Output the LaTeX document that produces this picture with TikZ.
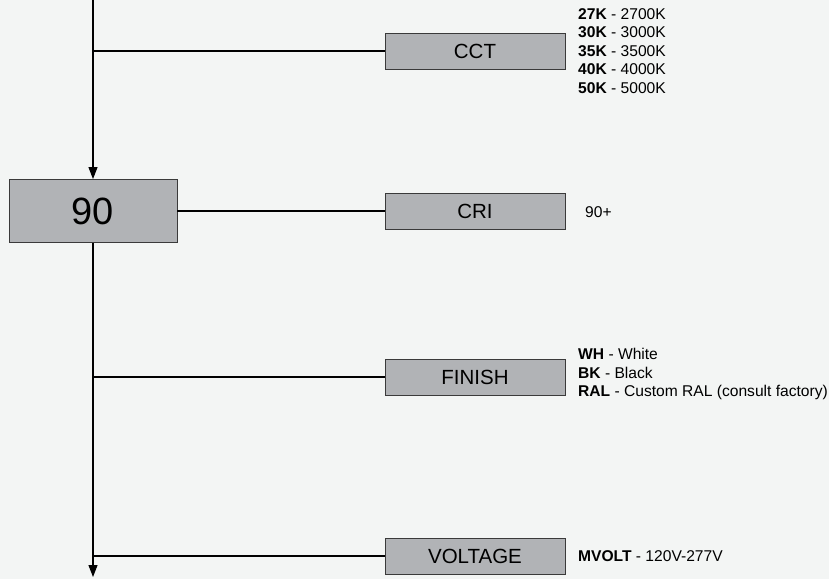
\documentclass[tikz,border=0pt]{standalone}
\usepackage{fontspec}
\setmainfont{Liberation Sans}
\usetikzlibrary{arrows.meta}
\definecolor{bgcol}{HTML}{F3F5F4}
\definecolor{boxcol}{HTML}{B1B3B6}
\definecolor{edgecol}{HTML}{3A3A3A}
\begin{document}
\begin{tikzpicture}[x=1pt,y=-1pt,
    optbox/.style={draw=edgecol, fill=boxcol, line width=0.9pt, minimum width=180pt, minimum height=36pt, inner sep=0pt, font=\fontsize{20.5}{24}\selectfont},
    codebox/.style={draw=edgecol, fill=boxcol, line width=0.9pt, minimum width=168pt, minimum height=63pt, inner sep=0pt, font=\fontsize{38}{44}\selectfont},
    optlist/.style={anchor=west, align=left, inner sep=0pt, font=\fontsize{15.6}{18.5}\selectfont},
    feed/.style={line width=1.1pt, -{Triangle[length=12pt,width=9pt]}},
    tap/.style={line width=1.1pt}]
    \def\spine{93}
    \def\boxx{475}
    \def\listx{578}

% --------------------
% background
% --------------------
\fill[bgcol] (0,0) rectangle (829,579);
\useasboundingbox (0,0) rectangle (829,579);

% --------------------
% code box and spine
% --------------------
\node[codebox] (code) at (\spine,211) {90};
\coordinate (top) at (\spine,0);
\coordinate (bottom) at (\spine,577);
\draw[feed] (top) -- (code.north);
\draw[feed] (code.south) -- (bottom);

% --------------------
% option boxes
% --------------------
\node[optbox] (cct) at (\boxx,51) {CCT};
\node[optbox] (cri) at (\boxx,211) {CRI};
\node[optbox] (finish) at (\boxx,377) {FINISH};
\node[optbox] (voltage) at (\boxx,556) {VOLTAGE};

\coordinate (jcct) at (\spine,51);
\coordinate (jfinish) at (\spine,377);
\coordinate (jvoltage) at (\spine,556);

\draw[tap] (jcct) -- (cct);
\draw[tap] (code.east) -- (cri.west);
\draw[tap] (jfinish) -- (finish);
\draw[tap] (jvoltage) -- (voltage);

% --------------------
% option lists
% --------------------
\node[optlist] (cctlist) at (\listx,51) {\textbf{27K} - 2700K\\ \textbf{30K} - 3000K\\ \textbf{35K} - 3500K\\ \textbf{40K} - 4000K\\ \textbf{50K} - 5000K};
\node[optlist] (crilist) at (\listx+7,212) {90+};
\node[optlist] (finishlist) at (\listx,374) {\textbf{WH} - White\\ \textbf{BK} - Black\\ \textbf{RAL} - Custom RAL (consult factory)};
\node[optlist] (voltlist) at (\listx,556) {\textbf{MVOLT} - 120V-277V};

\end{tikzpicture}
\end{document}
